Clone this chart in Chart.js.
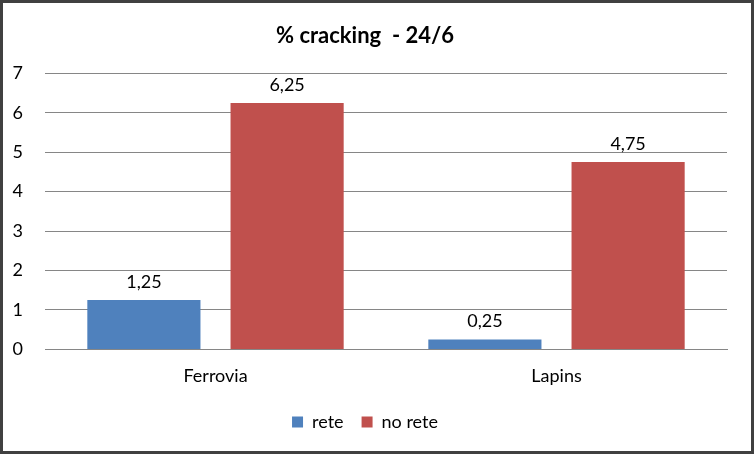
<!DOCTYPE html>
<html>
<head>
<meta charset="utf-8">
<script src="https://cdn.jsdelivr.net/npm/chart.js@4"></script>
<style>
  html, body { margin: 0; padding: 0; background: #fff; }
  #wrap {
    width: 754px; height: 454px; box-sizing: border-box;
    border: 3px solid #404040; background: #fff;
  }
  canvas { display: block; }
</style>
</head>
<body>
<div id="wrap"><canvas id="chart" width="748" height="448"></canvas></div>
<script>
const categories = ["Ferrovia", "Lapins"];
const reteValues = [1.25, 0.25];
const noReteValues = [6.25, 4.75];
const yTicks = [0, 1, 2, 3, 4, 5, 6, 7];

const fmt = (v) => v.toFixed(2).replace(".", ",");

// draws the value above each bar
const barLabels = {
  id: "barLabels",
  afterDatasetsDraw(chart) {
    const ctx = chart.ctx;
    ctx.save();
    ctx.font = "18px Lato";
    ctx.fillStyle = "#000";
    ctx.textAlign = "center";
    ctx.textBaseline = "middle";
    chart.data.datasets.forEach((ds, i) => {
      chart.getDatasetMeta(i).data.forEach((bar, j) => {
        ctx.fillText(fmt(ds.data[j]), bar.x, bar.y - 18);
      });
    });
    ctx.restore();
  },
};

new Chart(document.getElementById("chart"), {
  type: "bar",
  data: {
    labels: categories,
    datasets: [
      {
        label: "rete",
        data: reteValues,
        backgroundColor: "#4F81BD",
        categoryPercentage: 0.84,
        barPercentage: 0.79,
      },
      {
        label: "no rete",
        data: noReteValues,
        backgroundColor: "#C0504D",
        categoryPercentage: 0.84,
        barPercentage: 0.79,
      },
    ],
  },
  options: {
    responsive: false,
    animation: false,
    layout: { padding: { left: 0, right: 24, top: 0, bottom: 10 } },
    plugins: {
      title: {
        display: true,
        text: "% cracking  - 24/6",
        color: "#000",
        font: { family: "Lato", size: 22, weight: "bold" },
        padding: { top: 20, bottom: 24 },
      },
      legend: {
        position: "bottom",
        labels: {
          color: "#000",
          font: { family: "Lato", size: 18 },
          boxWidth: 11,
          boxHeight: 11,
          padding: 18,
        },
      },
      tooltip: { enabled: false },
    },
    scales: {
      x: {
        grid: { display: false },
        border: { color: "#868686" },
        ticks: { color: "#000", font: { family: "Lato", size: 18 }, padding: 8 },
      },
      y: {
        min: 0,
        max: 7,
        afterFit(scale) { scale.width = 42; },
        afterBuildTicks(scale) { scale.ticks = yTicks.map((v) => ({ value: v })); },
        grid: { color: "#868686", drawTicks: false },
        border: { display: false },
        ticks: { color: "#000", font: { family: "Lato", size: 18 }, padding: 22 },
      },
    },
  },
  plugins: [barLabels],
});
</script>
</body>
</html>
